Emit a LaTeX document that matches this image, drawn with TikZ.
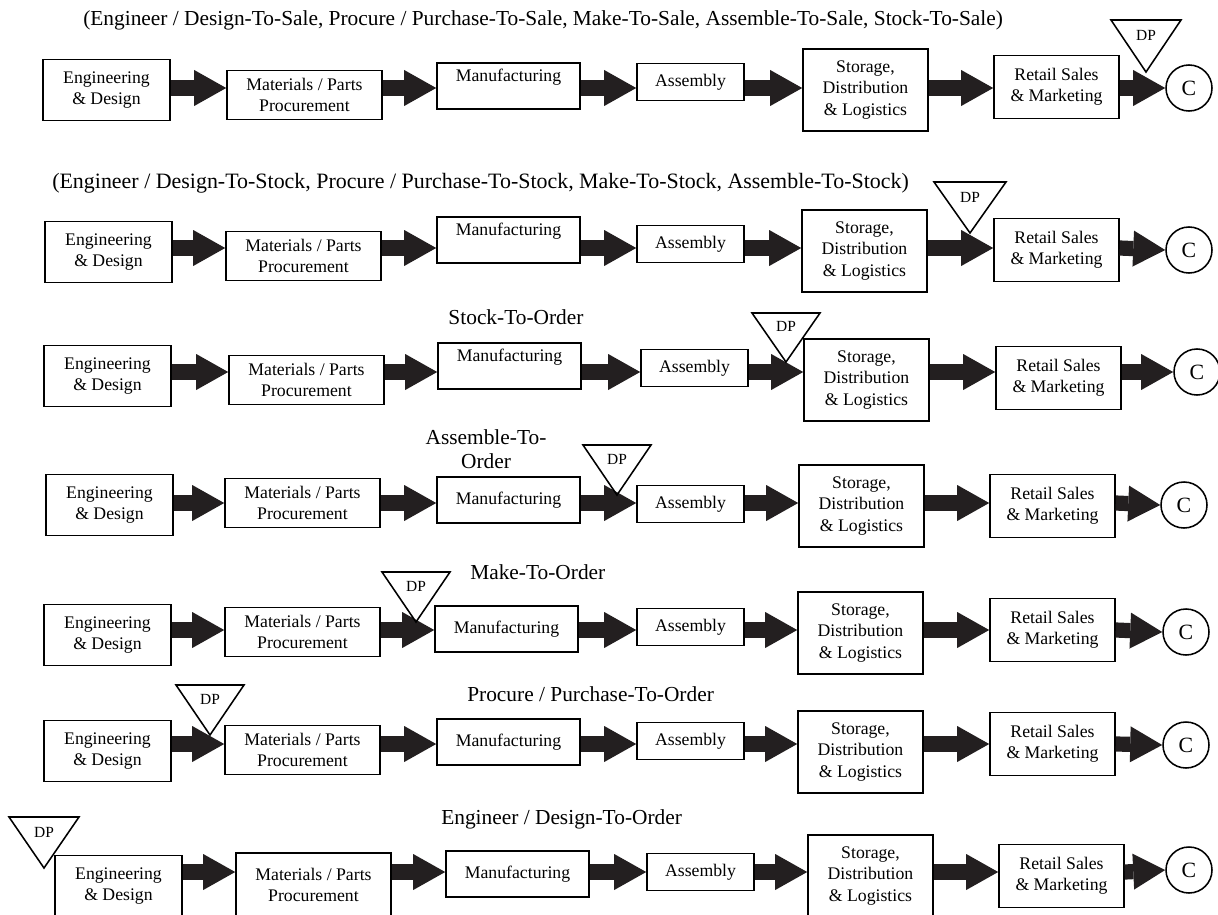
\documentclass[tikz,border=0pt]{standalone}
\usepackage{fontspec}
\setmainfont{Liberation Serif}
\usepackage{tikz}
\usetikzlibrary{arrows.meta}

\definecolor{arrowgray}{HTML}{231F20}

\begin{document}
\begin{tikzpicture}[x=0.025cm,y=-0.025cm]
	\tikzset{box/.style = {draw, line width=1.1pt, align=center, inner sep=1pt,
			font=\fontsize{12.6}{15}\selectfont}}
	\tikzset{engbox/.style = {box, minimum width=3.175cm, minimum height=1.525cm}}
	\tikzset{matbox/.style = {box, minimum width=3.875cm, minimum height=1.225cm}}
	\tikzset{manbox/.style = {box, minimum width=3.575cm, minimum height=1.15cm}}
	\tikzset{asmbox/.style = {box, minimum width=2.675cm, minimum height=0.925cm}}
	\tikzset{stobox/.style = {box, minimum width=3.125cm, minimum height=2.05cm}}
	\tikzset{retbox/.style = {box, minimum width=3.125cm, minimum height=1.575cm}}
	\tikzset{cust/.style = {shape=circle, draw, line width=1.1pt, minimum size=1.15cm,
			inner sep=0pt, font=\fontsize{15.5}{18}\selectfont}}
	\tikzset{flow/.style = {-{Triangle[length=0.8cm, width=0.9cm, line width=0pt]},
			line width=0.38cm, draw=arrowgray}}
	\tikzset{dp/.style = {draw, line width=1.1pt, line join=miter}}
	\tikzset{dptext/.style = {inner sep=0pt, font=\fontsize{11}{13}\selectfont}}
	\tikzset{title/.style = {inner sep=0pt, align=center, font=\fontsize{15.2}{17.5}\selectfont}}

	\useasboundingbox (0,0) rectangle (1218,915);
	\clip (0,0) rectangle (1218,915);

	% row 1 -- to sale
	\node[title, anchor=west] (t1) at (83,20) {(Engineer / Design-To-Sale, Procure / Purchase-To-Sale, Make-To-Sale, Assemble-To-Sale, Stock-To-Sale)};
	\coordinate (r1) at (0,88);
	\node[engbox] (eng1) at (106.5,90) {Engineering\\\& Design};
	\node[matbox] (mat1) at (304.5,95) {Materials / Parts\\Procurement};
	\node[manbox] (man1) at (508.5,86) {Manufacturing\\\mbox{}};
	\node[asmbox] (asm1) at (690.5,82) {Assembly};
	\node[stobox] (sto1) at (865.5,90) {Storage,\\Distribution\\\& Logistics};
	\node[retbox] (ret1) at (1056.5,87) {Retail Sales\\\& Marketing};
	\node[cust] (c1) at (1189,88) {C};
	\draw[flow] (eng1.east |- r1) -- (mat1.west |- r1);
	\draw[flow] (mat1.east |- r1) -- (man1.west |- r1);
	\draw[flow] (man1.east |- r1) -- (asm1.west |- r1);
	\draw[flow] (asm1.east |- r1) -- (sto1.west |- r1);
	\draw[flow] (sto1.east |- r1) -- (ret1.west |- r1);
	\draw[flow] (ret1.east |- r1) -- (c1.west);
	\draw[dp] (1146,72) -- ++(-35,-52) -- ++(70,0) -- cycle;
	\node[dptext] (dp1) at (1146,35) {DP};

	% row 2 -- to stock
	\node[title, anchor=west, font=\fontsize{15.6}{18}\selectfont] (t2) at (52,183) {(Engineer / Design-To-Stock, Procure / Purchase-To-Stock, Make-To-Stock, Assemble-To-Stock)};
	\coordinate (r2) at (0,248);
	\node[engbox] (eng2) at (108.5,252) {Engineering\\\& Design};
	\node[matbox] (mat2) at (303.5,256) {Materials / Parts\\Procurement};
	\node[manbox] (man2) at (508.5,240) {Manufacturing\\\mbox{}};
	\node[asmbox] (asm2) at (690.5,244) {Assembly};
	\node[stobox] (sto2) at (864.5,251) {Storage,\\Distribution\\\& Logistics};
	\node[retbox] (ret2) at (1056.5,250) {Retail Sales\\\& Marketing};
	\node[cust] (c2) at (1189,250) {C};
	\draw[flow] (eng2.east |- r2) -- (mat2.west |- r2);
	\draw[flow] (mat2.east |- r2) -- (man2.west |- r2);
	\draw[flow] (man2.east |- r2) -- (asm2.west |- r2);
	\draw[flow] (asm2.east |- r2) -- (sto2.west |- r2);
	\draw[flow] (sto2.east |- r2) -- (ret2.west |- r2);
	\draw[flow] (ret2.east |- r2) -- (c2.west);
	\draw[dp] (970,233) -- ++(-36,-51) -- ++(72,0) -- cycle;
	\node[dptext] (dp2) at (970,197) {DP};

	% row 3 -- stock to order
	\node[title] (t3) at (516,317) {Stock-To-Order};
	\coordinate (r3) at (0,372);
	\node[engbox] (eng3) at (107.5,376) {Engineering\\\& Design};
	\node[matbox] (mat3) at (306.5,380) {Materials / Parts\\Procurement};
	\node[manbox] (man3) at (509.5,366) {Manufacturing\\\mbox{}};
	\node[asmbox] (asm3) at (694.5,368) {Assembly};
	\node[stobox] (sto3) at (866.5,380) {Storage,\\Distribution\\\& Logistics};
	\node[retbox] (ret3) at (1058.5,378) {Retail Sales\\\& Marketing};
	\node[cust] (c3) at (1197,372) {C};
	\draw[flow] (eng3.east |- r3) -- (mat3.west |- r3);
	\draw[flow] (mat3.east |- r3) -- (man3.west |- r3);
	\draw[flow] (man3.east |- r3) -- (asm3.west |- r3);
	\draw[flow] (asm3.east |- r3) -- (sto3.west |- r3);
	\draw[flow] (sto3.east |- r3) -- (ret3.west |- r3);
	\draw[flow] (ret3.east |- r3) -- (c3.west);
	\draw[dp] (786,362) -- ++(-34,-49) -- ++(68,0) -- cycle;
	\node[dptext] (dp3) at (786,326) {DP};

	% row 4 -- assemble to order
	\node[title] (t4) at (486,449) {Assemble-To-\\Order};
	\coordinate (r4) at (0,503);
	\node[engbox] (eng4) at (109.5,505) {Engineering\\\& Design};
	\node[matbox] (mat4) at (302.5,503) {Materials / Parts\\Procurement};
	\node[manbox] (man4) at (508.5,500) {Manufacturing};
	\node[asmbox] (asm4) at (690.5,504) {Assembly};
	\node[stobox] (sto4) at (861.5,506) {Storage,\\Distribution\\\& Logistics};
	\node[retbox] (ret4) at (1052.5,506) {Retail Sales\\\& Marketing};
	\node[cust] (c4) at (1184,505) {C};
	\draw[flow] (eng4.east |- r4) -- (mat4.west |- r4);
	\draw[flow] (mat4.east |- r4) -- (man4.west |- r4);
	\draw[flow] (man4.east |- r4) -- (asm4.west |- r4);
	\draw[flow] (asm4.east |- r4) -- (sto4.west |- r4);
	\draw[flow] (sto4.east |- r4) -- (ret4.west |- r4);
	\draw[flow] (ret4.east |- r4) -- (c4.west);
	\draw[dp] (617,495) -- ++(-34,-50) -- ++(68,0) -- cycle;
	\node[dptext] (dp4) at (617,459) {DP};

	% row 5 -- make to order
	\node[title, anchor=west] (t5) at (470,572) {Make-To-Order};
	\coordinate (r5) at (0,630);
	\node[engbox] (eng5) at (107.5,635) {Engineering\\\& Design};
	\node[matbox] (mat5) at (302.5,632) {Materials / Parts\\Procurement};
	\node[manbox] (man5) at (506.5,629) {Manufacturing};
	\node[asmbox] (asm5) at (690.5,627) {Assembly};
	\node[stobox] (sto5) at (860.5,633) {Storage,\\Distribution\\\& Logistics};
	\node[retbox] (ret5) at (1052.5,630) {Retail Sales\\\& Marketing};
	\node[cust] (c5) at (1186,632) {C};
	\draw[flow] (eng5.east |- r5) -- (mat5.west |- r5);
	\draw[flow] (mat5.east |- r5) -- (man5.west |- r5);
	\draw[flow] (man5.east |- r5) -- (asm5.west |- r5);
	\draw[flow] (asm5.east |- r5) -- (sto5.west |- r5);
	\draw[flow] (sto5.east |- r5) -- (ret5.west |- r5);
	\draw[flow] (ret5.east |- r5) -- (c5.west);
	\draw[dp] (416,622) -- ++(-34,-50) -- ++(68,0) -- cycle;
	\node[dptext] (dp5) at (416,586) {DP};

	% row 6 -- procure / purchase to order
	\node[title, anchor=west] (t6) at (467,694) {Procure / Purchase-To-Order};
	\coordinate (r6) at (0,744);
	\node[engbox] (eng6) at (107.5,751) {Engineering\\\& Design};
	\node[matbox] (mat6) at (302.5,750) {Materials / Parts\\Procurement};
	\node[manbox] (man6) at (508.5,742) {Manufacturing};
	\node[asmbox] (asm6) at (690.5,741) {Assembly};
	\node[stobox] (sto6) at (860.5,752) {Storage,\\Distribution\\\& Logistics};
	\node[retbox] (ret6) at (1052.5,744) {Retail Sales\\\& Marketing};
	\node[cust] (c6) at (1186,745) {C};
	\draw[flow] (eng6.east |- r6) -- (mat6.west |- r6);
	\draw[flow] (mat6.east |- r6) -- (man6.west |- r6);
	\draw[flow] (man6.east |- r6) -- (asm6.west |- r6);
	\draw[flow] (asm6.east |- r6) -- (sto6.west |- r6);
	\draw[flow] (sto6.east |- r6) -- (ret6.west |- r6);
	\draw[flow] (ret6.east |- r6) -- (c6.west);
	\draw[dp] (210,735) -- ++(-34,-50) -- ++(68,0) -- cycle;
	\node[dptext] (dp6) at (210,699) {DP};

	% row 7 -- engineer / design to order
	\node[title, anchor=west] (t7) at (441,819) {Engineer / Design-To-Order};
	\coordinate (r7) at (0,872);
	\node[engbox] (eng7) at (118.5,886) {Engineering\\\& Design};
	\node[matbox, minimum height=1.6cm] (mat7) at (313.5,885) {Materials / Parts\\Procurement};
	\node[manbox] (man7) at (517.5,874) {Manufacturing};
	\node[asmbox] (asm7) at (700.5,872) {Assembly};
	\node[stobox] (sto7) at (870.5,876) {Storage,\\Distribution\\\& Logistics};
	\node[retbox] (ret7) at (1061.5,876) {Retail Sales\\\& Marketing};
	\node[cust] (c7) at (1189,870) {C};
	\draw[flow] (eng7.east |- r7) -- (mat7.west |- r7);
	\draw[flow] (mat7.east |- r7) -- (man7.west |- r7);
	\draw[flow] (man7.east |- r7) -- (asm7.west |- r7);
	\draw[flow] (asm7.east |- r7) -- (sto7.west |- r7);
	\draw[flow] (sto7.east |- r7) -- (ret7.west |- r7);
	\draw[flow] (ret7.east |- r7) -- (c7.west);
	\draw[dp] (44,868) -- ++(-35,-51) -- ++(70,0) -- cycle;
	\node[dptext] (dp7) at (44,832) {DP};

\end{tikzpicture}
\end{document}
